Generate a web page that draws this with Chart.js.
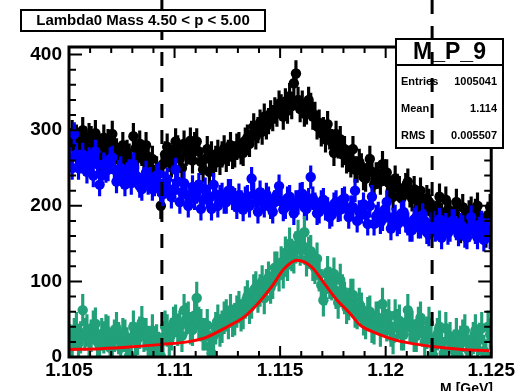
<!DOCTYPE html>
<html>
<head>
<meta charset="utf-8">
<script src="https://cdn.jsdelivr.net/npm/chart.js@4.4.1/dist/chart.umd.min.js"></script>
<style>
body { margin: 0; background: #fff; }
#wrap { width: 517px; height: 391px; }
</style>
</head>
<body>
<div id="wrap"><canvas id="mass-chart" width="517" height="391"></canvas></div>
<script>
// histogram binning: 200 bins of 0.0001 GeV between 1.105 and 1.125
const xMin = 1.105;
const xMax = 1.125;
const nBins = 200;
const xTickValues = [1.105, 1.11, 1.115, 1.12, 1.125];
const yTickValues = [0, 100, 200, 300, 400];

// all candidates (black)
const allCounts = [
    285, 296, 278, 290, 270, 283, 300, 288, 276, 292, 288, 270, 296, 281, 262, 275, 290, 272, 284, 268,
    295, 278, 272, 262, 262, 280, 255, 270, 265, 250, 292, 276, 266, 282, 270, 260, 280, 265, 250, 262,
    235, 248, 230, 200, 255, 268, 278, 262, 255, 270, 285, 276, 262, 250, 282, 270, 272, 286, 260, 280,
    285, 272, 258, 248, 262, 275, 245, 268, 255, 262, 270, 258, 268, 276, 262, 270, 280, 266, 268, 278,
    280, 272, 270, 286, 290, 282, 295, 305, 292, 300, 310, 298, 318, 305, 312, 322, 316, 326, 322, 335,
    330, 318, 338, 326, 345, 332, 362, 375, 340, 328, 335, 322, 325, 340, 332, 318, 320, 305, 310, 296,
    300, 288, 308, 292, 284, 270, 295, 280, 288, 268, 275, 260, 262, 255, 275, 248, 248, 258, 252, 238,
    236, 250, 262, 245, 228, 240, 240, 232, 255, 244, 244, 230, 222, 212, 236, 225, 222, 210, 215, 226,
    232, 215, 210, 222, 208, 198, 220, 205, 196, 210, 205, 192, 190, 182, 200, 212, 186, 178, 208, 195,
    190, 182, 192, 205, 175, 168, 198, 186, 176, 190, 195, 182, 192, 200, 185, 172, 170, 162, 188, 198
];
// background (blue)
const bkgCounts = [
    262, 250, 295, 268, 250, 258, 268, 255, 245, 262, 258, 240, 272, 255, 228, 240, 255, 246, 248, 262,
    264, 248, 232, 245, 250, 238, 228, 242, 246, 230, 255, 240, 238, 226, 222, 236, 244, 230, 236, 222,
    228, 240, 242, 220, 215, 230, 235, 222, 212, 220, 248, 232, 205, 218, 230, 215, 200, 212, 225, 210,
    218, 228, 196, 208, 222, 212, 210, 196, 228, 215, 200, 212, 215, 205, 205, 220, 220, 210, 208, 198,
    214, 205, 195, 210, 212, 200, 236, 215, 205, 192, 218, 208, 200, 215, 210, 198, 192, 205, 215, 226,
    206, 195, 198, 210, 212, 200, 190, 205, 204, 215, 216, 198, 196, 208, 238, 210, 202, 190, 192, 205,
    208, 196, 196, 185, 188, 202, 205, 194, 195, 208, 210, 196, 185, 198, 198, 220, 180, 192, 192, 202,
    188, 176, 200, 212, 176, 186, 190, 178, 182, 195, 205, 185, 170, 182, 186, 175, 178, 190, 192, 180,
    176, 168, 168, 182, 185, 172, 172, 188, 180, 165, 162, 176, 178, 168, 170, 182, 158, 170, 175, 164,
    168, 180, 180, 170, 162, 175, 172, 160, 158, 168, 185, 172, 165, 158, 170, 178, 155, 165, 168, 158
];
// background subtracted signal (green)
const sigCounts = [
    22, 15, 30, 38, 18, 26, 62, 30, 35, 22, 28, 40, 44, 20, 15, 30, 26, 35, 33, 12,
    20, 28, 38, 25, 12, 30, 28, 18, 2, 25, 40, 22, 24, 32, 46, 28, 30, 20, 18, 35,
    8, 22, 12, 1, 26, 40, 35, 22, 30, 45, 48, 36, 40, 28, 62, 50, 52, 38, 36, 55,
    78, 45, 42, 30, 30, 42, 14, 5, 28, 38, 48, 35, 40, 52, 55, 45, 62, 48, 50, 60,
    66, 55, 58, 72, 80, 65, 72, 88, 92, 80, 88, 100, 78, 95, 105, 92, 98, 118, 118, 108,
    125, 112, 138, 122, 150, 135, 132, 145, 160, 142, 148, 165, 128, 138, 140, 122, 118, 130, 108, 95,
    75, 90, 112, 98, 96, 110, 85, 72, 102, 88, 78, 65, 70, 82, 82, 60, 58, 70, 64, 50,
    45, 58, 60, 40, 38, 52, 52, 35, 70, 48, 42, 55, 35, 25, 55, 42, 48, 30, 30, 45,
    62, 40, 40, 28, 28, 45, 52, 35, 20, 32, 45, 25, 2, 18, 30, 40, 18, 5, 38, 22,
    25, 12, 15, 30, 2, 20, 28, 35, 20, 8, 12, 25, 35, 22, 24, 38, 8, 2, 40, 30
];
const allErr = 17;
const bkgErr = 15;
const sigErr = 21;

// fit curve
const fitX = [1.105, 1.1065, 1.108, 1.1094, 1.1106, 1.1115, 1.1125, 1.1133, 1.1138, 1.1146,
              1.1152, 1.1158, 1.1165, 1.1171, 1.1177, 1.1183, 1.1188, 1.1196, 1.1204, 1.1212,
              1.1223, 1.1236, 1.1249];
const fitY = [10, 11, 13.5, 16.7, 20, 26, 40, 53, 66, 93,
              117, 128, 119, 97, 75, 58, 42, 31, 23, 18,
              13.6, 10, 8.4];

// mass window cuts (dashed lines)
const cutLines = [1.1094, 1.1222];

const histTitle = 'Lambda0 Mass 4.50 < p < 5.00';
const statsName = 'M_P_9';
const statsRows = [['Entries', '1005041'], ['Mean', '1.114'], ['RMS', '0.005507']];
const xTitle = 'M [GeV]';

const binWidth = (xMax - xMin) / nBins;
const binCentres = [];
for (let i = 0; i < nBins; i++) binCentres.push(xMin + (i + 0.5) * binWidth);

const FONT = '"Liberation Sans", Arial, sans-serif';

function errorBars(values, err, color, order) {
    return {
        type: 'bar',
        data: values.map((v, i) => ({x: binCentres[i], y: [v - err, v + err]})),
        backgroundColor: color,
        barThickness: 2.5,
        grouped: false,
        order: order
    };
}

function markers(values, color, order) {
    return {
        type: 'scatter',
        data: values.map((v, i) => ({x: binCentres[i], y: v})),
        backgroundColor: color,
        pointRadius: 5.2,
        pointBorderWidth: 0,
        order: order
    };
}

// ROOT style frame with inward ticks, stats box, title box, cut lines
const rootStyle = {
    id: 'rootStyle',
    afterDatasetsDraw(chart) {
        const {ctx, chartArea: a, scales: {x, y}} = chart;
        ctx.save();
        ctx.strokeStyle = '#000';
        ctx.lineWidth = 2;
        ctx.beginPath();
        for (let k = 0; k * 20 <= 410; k++) {
            const py = y.getPixelForValue(k * 20);
            const len = k % 5 === 0 ? 13 : 7;
            ctx.moveTo(a.left, py); ctx.lineTo(a.left + len, py);
            ctx.moveTo(a.right, py); ctx.lineTo(a.right - len, py);
        }
        for (let k = 0; k <= 20; k++) {
            const px = x.getPixelForValue(xMin + k * 0.001);
            const len = k % 5 === 0 ? 11 : 6;
            ctx.moveTo(px, a.bottom); ctx.lineTo(px, a.bottom - len);
            ctx.moveTo(px, a.top); ctx.lineTo(px, a.top + len);
        }
        ctx.stroke();
        ctx.lineWidth = 3;
        ctx.strokeRect(a.left, a.top, a.right - a.left, a.bottom - a.top);
        ctx.restore();
    },
    afterDraw(chart) {
        const {ctx, chartArea: a, scales: {x}} = chart;
        ctx.save();
        // stats box
        ctx.fillStyle = '#fff';
        ctx.fillRect(396, 39, 107, 109);
        ctx.strokeStyle = '#000';
        ctx.lineWidth = 2;
        ctx.strokeRect(396, 39, 107, 109);
        ctx.beginPath();
        ctx.moveTo(396, 65); ctx.lineTo(503, 65);
        ctx.stroke();
        ctx.fillStyle = '#000';
        ctx.textBaseline = 'middle';
        ctx.textAlign = 'center';
        ctx.font = 'bold 23px ' + FONT;
        ctx.fillText(statsName, 449.5, 53);
        ctx.font = 'bold 11px ' + FONT;
        statsRows.forEach((row, i) => {
            const ry = 82 + i * 27;
            ctx.textAlign = 'left';
            ctx.fillText(row[0], 401, ry);
            ctx.textAlign = 'right';
            ctx.fillText(row[1], 497, ry);
        });
        // cut lines
        ctx.setLineDash([14, 12]);
        ctx.lineWidth = 3;
        ctx.beginPath();
        cutLines.forEach(c => {
            const px = x.getPixelForValue(c);
            ctx.moveTo(px, 0); ctx.lineTo(px, a.bottom);
        });
        ctx.stroke();
        ctx.setLineDash([]);
        // title box
        ctx.fillStyle = '#fff';
        ctx.fillRect(21, 10, 244, 21);
        ctx.lineWidth = 2;
        ctx.strokeRect(21, 10, 244, 21);
        ctx.fillStyle = '#000';
        ctx.textAlign = 'center';
        ctx.font = 'bold 15px ' + FONT;
        ctx.fillText(histTitle, 143, 21);
        // axis title, cut by the bottom edge as in the original
        ctx.textAlign = 'right';
        ctx.textBaseline = 'alphabetic';
        ctx.font = 'bold 14px ' + FONT;
        ctx.fillText(xTitle, 493, 393);
        ctx.restore();
    }
};

new Chart(document.getElementById('mass-chart').getContext('2d'), {
    type: 'scatter',
    data: {
        datasets: [
            {
                type: 'line',
                data: fitX.map((v, i) => ({x: v, y: fitY[i]})),
                borderColor: '#ff0000',
                borderWidth: 3,
                pointRadius: 0,
                cubicInterpolationMode: 'monotone',
                order: 0
            },
            markers(sigCounts, '#21a079', 1),
            errorBars(sigCounts, sigErr, '#21a079', 2),
            markers(bkgCounts, '#0000ff', 3),
            errorBars(bkgCounts, bkgErr, '#0000ff', 4),
            markers(allCounts, '#000000', 5),
            errorBars(allCounts, allErr, '#000000', 6)
        ]
    },
    options: {
        responsive: false,
        animation: false,
        layout: {padding: {top: 47, right: 25, bottom: 0, left: 0}},
        plugins: {legend: {display: false}, tooltip: {enabled: false}},
        scales: {
            x: {
                type: 'linear',
                min: xMin,
                max: xMax,
                offset: false,
                grid: {display: false, drawTicks: false},
                border: {display: false},
                afterFit: s => { s.height = 34; },
                afterBuildTicks: s => { s.ticks = xTickValues.map(v => ({value: v})); },
                ticks: {
                    padding: 2,
                    maxRotation: 0,
                    autoSkip: false,
                    color: '#000',
                    font: {family: FONT, size: 19, weight: 'bold'},
                    callback: v => String(parseFloat(v.toFixed(3)))
                }
            },
            y: {
                type: 'linear',
                min: 0,
                max: 410,
                grid: {display: false, drawTicks: false},
                border: {display: false},
                afterFit: s => { s.width = 69; },
                afterBuildTicks: s => { s.ticks = yTickValues.map(v => ({value: v})); },
                ticks: {
                    padding: 7,
                    autoSkip: false,
                    color: '#000',
                    font: {family: FONT, size: 19, weight: 'bold'}
                }
            }
        }
    },
    plugins: [rootStyle]
});
</script>
</body>
</html>
